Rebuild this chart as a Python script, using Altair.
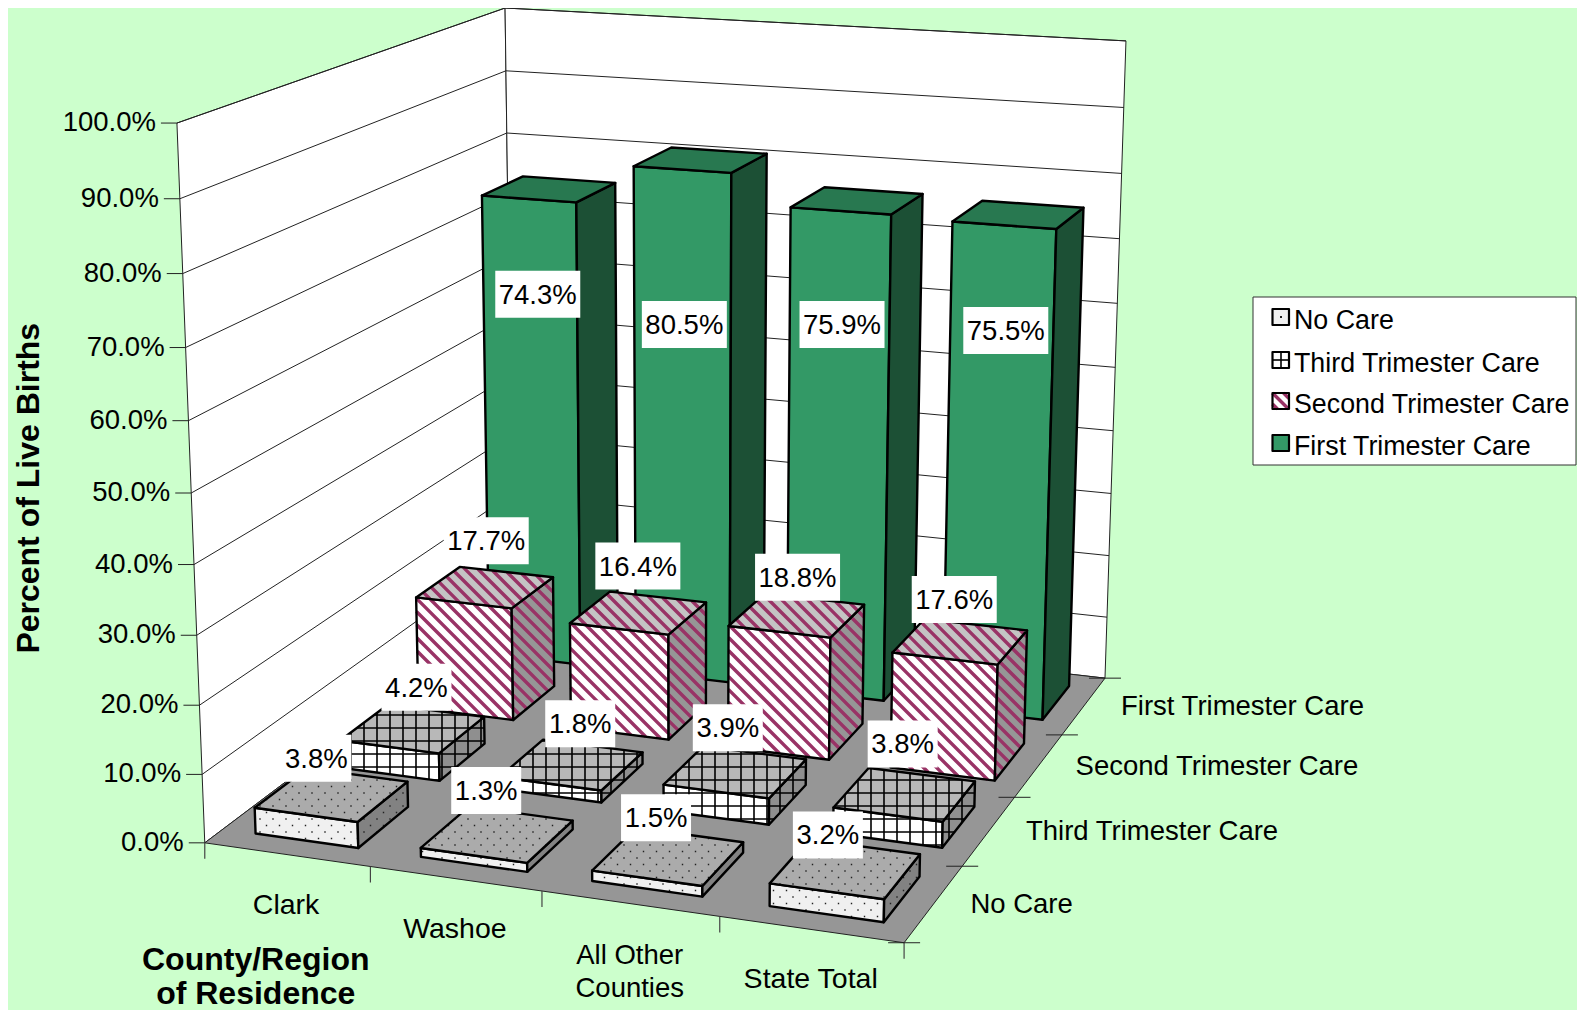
import numpy as np
import altair as alt

# ---- data ----
CATEGORIES = ["Clark", "Washoe", "All Other Counties", "State Total"]
SERIES = ["No Care", "Third Trimester Care", "Second Trimester Care", "First Trimester Care"]
NO_CARE = [3.8, 1.3, 1.5, 3.2]
THIRD = [4.2, 1.8, 3.9, 3.8]
SECOND = [17.7, 16.4, 18.8, 17.6]
FIRST = [74.3, 80.5, 75.9, 75.5]
VALUES = [NO_CARE, THIRD, SECOND, FIRST]
Y_TICKS = [0, 10, 20, 30, 40, 50, 60, 70, 80, 90, 100]

# ---- layout: oblique view of the unit box (column, row, value) -> picture pixels ----
CALIB = [
    (0, 0, 0, 205, 842.7, 3), (1, 0, 0, 904, 942.7, 3), (1, 1, 0, 1105, 678, 3), (0, 1, 0, 510, 618, .3),
    (0, 0, 1, 177, 123, 3), (0, 1, 1, 505, 8, 3), (1, 1, 1, 1126, 41, 3), (0, 0, .5, 190.5, 492.3, 1),
    (1, .25, 0, 963, 866, 1), (1, .5, 0, 1015, 797, 1), (1, .75, 0, 1062, 735, 1),
    (.25, 0, 0, 370, 868, 1), (.5, 0, 0, 541, 892, 1), (.75, 0, 0, 719, 917, 1),
]
A, b = [], []
for X, Y, Z, u, v, wt in CALIB:
    A.append([wt * q for q in (X, Y, Z, 1, 0, 0, 0, 0, -u * X, -u * Y, -u * Z)]); b.append(wt * u)
    A.append([wt * q for q in (0, 0, 0, 0, X, Y, Z, 1, -v * X, -v * Y, -v * Z)]); b.append(wt * v)
p = np.linalg.lstsq(np.array(A, float), np.array(b, float), rcond=None)[0]
M = np.array([p[:4], p[4:8], [p[8], p[9], p[10], 1.0]])


def proj(X, Y, Z):
    h = M @ np.array([X, Y, Z, 1.0])
    return (h[0] / h[2], h[1] / h[2])


OFF = 8  # page margin
TEXT_DY = 1.5
features = []


def shift(pts):
    return [[float(x - OFF), float(y - OFF)] for x, y in pts]


def add(kind, coords, fill="transparent", stroke="transparent", sw=0):
    features.append({"type": "Feature", "geometry": {"type": kind, "coordinates": coords},
                     "properties": {"fill": fill, "stroke": stroke, "sw": sw}})


def poly(pts, fill="transparent", stroke="transparent", sw=0):
    r = shift(pts)
    add("Polygon", [r + [r[0]]], fill, stroke, sw)


def line(pts, stroke="#000000", sw=1):
    add("LineString", shift(pts), "transparent", stroke, sw)


def clip(a, d, pts):
    """segment a + t*d clipped to convex polygon pts"""
    cx = sum(q[0] for q in pts) / len(pts)
    cy = sum(q[1] for q in pts) / len(pts)
    t0, t1 = 0.0, 1.0
    n = len(pts)
    for i in range(n):
        e = (pts[(i + 1) % n][0] - pts[i][0], pts[(i + 1) % n][1] - pts[i][1])
        nx, ny = -e[1], e[0]
        if nx * (cx - pts[i][0]) + ny * (cy - pts[i][1]) < 0:
            nx, ny = -nx, -ny
        den = nx * d[0] + ny * d[1]
        num = nx * (a[0] - pts[i][0]) + ny * (a[1] - pts[i][1])
        if abs(den) < 1e-9:
            if num < 0:
                return None
        elif den > 0:
            t0 = max(t0, -num / den)
        else:
            t1 = min(t1, -num / den)
    if t0 >= t1:
        return None
    return [(a[0] + t0 * d[0], a[1] + t0 * d[1]), (a[0] + t1 * d[0], a[1] + t1 * d[1])]


PERIOD = 13.0


def hatch(pts, style):
    xs = [q[0] for q in pts]
    ys = [q[1] for q in pts]
    x0, x1, y0, y1 = min(xs), max(xs), min(ys), max(ys)
    if style == "grid":
        segs = []
        for k in range(int(x0 // PERIOD), int(x1 // PERIOD) + 2):
            s = clip((k * PERIOD, y0), (0, y1 - y0), pts)
            if s: segs.append(shift(s))
        for k in range(int(y0 // PERIOD), int(y1 // PERIOD) + 2):
            s = clip((x0, k * PERIOD), (x1 - x0, 0), pts)
            if s: segs.append(shift(s))
        add("MultiLineString", segs, "transparent", "#000000", 1.6)
    elif style == "stripe":
        segs = []
        for k in range(int((x0 - y1) // PERIOD) - 1, int((x1 - y0) // PERIOD) + 2):
            c = k * PERIOD  # x - y = c
            a = (y0 + c, y0)
            s = clip(a, (y1 - y0, y1 - y0), pts)
            if s: segs.append(shift(s))
        add("MultiLineString", segs, "transparent", "#993366", 3.4)
    elif style == "dots":
        sq = []
        r = 0.7
        for ky in range(int(y0 // (PERIOD / 2)), int(y1 // (PERIOD / 2)) + 2):
            yy = ky * PERIOD / 2
            shiftx = (PERIOD / 2) if ky % 2 else 0
            for kx in range(int(x0 // PERIOD) - 1, int(x1 // PERIOD) + 2):
                xx = kx * PERIOD + shiftx
                if clip((xx - .01, yy), (.02, 0), pts):
                    sqp = shift([(xx - r, yy - r), (xx + r, yy - r), (xx + r, yy + r), (xx - r, yy + r)])
                    sq.append([sqp + [sqp[0]]])
        if sq:
            add("MultiPolygon", sq, "#222222")


STYLES = {
    0: dict(front="#f0f0f0", top="#ababab", side="#828282", hatch="dots"),
    1: dict(front="#ffffff", top="#b8b8b8", side="#8f8f8f", hatch="grid"),
    2: dict(front="#ffffff", top="#c4c4c4", side="#969696", hatch="stripe"),
    3: dict(front="#339966", top="#287850", side="#1c5035", hatch=None),
}

# walls + floor
WALL = "#222222"
poly([proj(0, 0, 0), proj(0, 1, 0), proj(0, 1, 1), proj(0, 0, 1)], "#ffffff", WALL, 1)
poly([proj(0, 1, 0), proj(1, 1, 0), proj(1, 1, 1), proj(0, 1, 1)], "#ffffff", WALL, 1)
poly([proj(0, 0, 0), proj(1, 0, 0), proj(1, 1, 0), proj(0, 1, 0)], "#969696", WALL, 1)
for t in Y_TICKS[1:]:
    z = t / 100
    line([proj(0, 0, z), proj(0, 1, z), proj(1, 1, z)], "#222222", 1)
    a = proj(0, 0, z)
    line([(a[0] - 16, a[1]), a], "#222222", 1)
a = proj(0, 0, 0)
line([(a[0] - 16, a[1]), a], "#222222", 1)
for i in range(5):
    a = proj(i / 4, 0, 0)
    line([a, (a[0], a[1] + 16)], "#444444", 1.2)
for j in range(1, 5):
    a = proj(1, j / 4, 0)
    line([(a[0] - 16, a[1]), (a[0] + 16, a[1])], "#222222", 1)
a = proj(1, 0, 0)
line([(a[0] - 16, a[1]), (a[0] + 16, a[1])], "#222222", 1)

# bars, back to front
XPAD0, XPAD1, YPAD = 0.2, 0.175, 0.2
for j in [3, 2, 1, 0]:
    st = STYLES[j]
    for i in range(4):
        v = VALUES[j][i] / 100
        x0, x1 = (i + XPAD0) / 4, (i + 1 - XPAD1) / 4
        y0, y1 = (j + YPAD) / 4, (j + 1 - YPAD) / 4
        front = [proj(x0, y0, 0), proj(x1, y0, 0), proj(x1, y0, v), proj(x0, y0, v)]
        side = [proj(x1, y0, 0), proj(x1, y1, 0), proj(x1, y1, v), proj(x1, y0, v)]
        top = [proj(x0, y0, v), proj(x1, y0, v), proj(x1, y1, v), proj(x0, y1, v)]
        for face, col in ((front, st["front"]), (side, st["side"]), (top, st["top"])):
            poly(face, col)
            if st["hatch"]:
                hatch(face, st["hatch"])
            poly(face, "transparent", "#000000", 2.4)

# data label boxes; positions of the hand-placed labels in the picture (display px)
S = 1585 / 1568
LABEL_POS = {
    3: [(532, 291), (677, 321), (833, 321), (995, 327)],
    2: [(481, 535), (631, 560), (789, 571), (944, 593)],
    1: [(412, 680), (574, 716), (720, 720), (893, 736)],
    0: [(313, 750), (481, 782), (649, 809), (819, 826)],
}
label_rows = []
for j in [3, 2, 1, 0]:
    for i in range(4):
        cx, cy = LABEL_POS[j][i]
        cx, cy = cx * S, cy * S
        txt = f"{VALUES[j][i]:.1f}%"
        w = 85 if len(txt) == 5 else 70
        h = 47
        poly([(cx - w / 2, cy - h / 2), (cx + w / 2, cy - h / 2), (cx + w / 2, cy + h / 2), (cx - w / 2, cy + h / 2)], "#ffffff")
        label_rows.append({"lon": cx - OFF, "lat": cy - OFF + TEXT_DY, "t": txt})

# legend
LX0, LX1, LY0, LY1 = 1253, 1576, 297, 465
poly([(LX0, LY0), (LX1, LY0), (LX1, LY1), (LX0, LY1)], "#ffffff", "#333333", 1)
LEG_Y = [318, 361, 402, 444]
legend_rows = []
for j, yy in enumerate(LEG_Y):
    st = STYLES[j]
    box = [(1272.5, yy - 9), (1289, yy - 9), (1289, yy + 7), (1272.5, yy + 7)]
    poly(box, st["front"])
    if st["hatch"] == "dots":
        add("Polygon", [shift([(1280, yy - 2), (1282, yy - 2), (1282, yy), (1280, yy)]) + [[1280 - OFF, yy - 2 - OFF]]], "#222222")
    elif st["hatch"] == "grid":
        line([(1281, yy - 9), (1281, yy + 7)], "#000000", 1.6)
        line([(1272.5, yy - 1), (1289, yy - 1)], "#000000", 1.6)
    elif st["hatch"] == "stripe":
        for d in (-11, 0, 11):
            seg = clip((1272.5 + d - 6, yy - 9 - 6), (28, 28), box)
            if seg:
                line(seg, "#993366", 3.4)
    poly(box, "transparent", "#000000", 2.2)
    legend_rows.append({"lon": 1294 - OFF, "lat": yy + 1 - OFF + TEXT_DY, "t": SERIES[j]})

# tick labels
tick_rows = []
for t in Y_TICKS:
    a = proj(0, 0, t / 100)
    tick_rows.append({"lon": a[0] - 21 - OFF, "lat": a[1] - OFF, "t": f"{t:.1f}%"})

cat_rows = [{"lon": x * S - OFF, "lat": y * S - OFF + TEXT_DY, "t": t} for x, y, t in [
    (283, 894, "Clark"), (450, 918, "Washoe"), (802, 967, "State Total")]]
cat2_rows = [{"lon": x * S - OFF, "lat": y * S - OFF + TEXT_DY, "t": t} for x, y, t in [
    (623, 944, "All Other"), (623, 977, "Counties")]]
depth_rows = [{"lon": x * S - OFF, "lat": y * S - OFF + TEXT_DY, "t": t} for x, y, t in [
    (960, 894, SERIES[0]), (1015, 822, SERIES[1]), (1064, 757, SERIES[2]), (1109, 698, SERIES[3])]]
xtitle_rows = [{"lon": 253 * S - OFF, "lat": y * S - OFF, "t": t} for y, t in [(950, "County/Region"), (983, "of Residence")]]
ytitle_rows = [{"lon": 29 * S - OFF, "lat": 483 * S - OFF, "t": "Percent of Live Births"}]

PROJ = dict(type="identity", scale=1, translate=[0, 0])
FONT = "Liberation Sans"

shapes = alt.Chart(alt.Data(values=features)).mark_geoshape(strokeJoin="round").encode(
    fill=alt.Fill("properties.fill:N", scale=None),
    stroke=alt.Stroke("properties.stroke:N", scale=None),
    strokeWidth=alt.StrokeWidth("properties.sw:Q", scale=None),
).project(**PROJ)


def text_layer(rows, **kw):
    opts = dict(font=FONT, fontSize=27.5, color="#000000", baseline="middle")
    opts.update(kw)
    return alt.Chart(alt.Data(values=rows)).mark_text(**opts).encode(
        longitude="lon:Q", latitude="lat:Q", text="t:N").project(**PROJ)


chart = alt.layer(
    shapes,
    text_layer(label_rows, align="center"),
    text_layer(legend_rows, align="left", fontSize=26.8),
    text_layer(tick_rows, align="right"),
    text_layer(cat_rows, align="center", fontSize=28.5),
    text_layer(cat2_rows, align="center"),
    text_layer(depth_rows, align="left"),
    text_layer(xtitle_rows, align="center", fontWeight="bold", fontSize=32),
    text_layer(ytitle_rows, align="center", fontWeight="bold", fontSize=32, angle=270),
).properties(
    width=1569, height=1002, background="#CCFFCC", padding=0,
    autosize=alt.AutoSizeParams(type="none"),
).configure_view(stroke=None)

chart.save("out.html", embed_options={"renderer": "svg", "actions": False})
